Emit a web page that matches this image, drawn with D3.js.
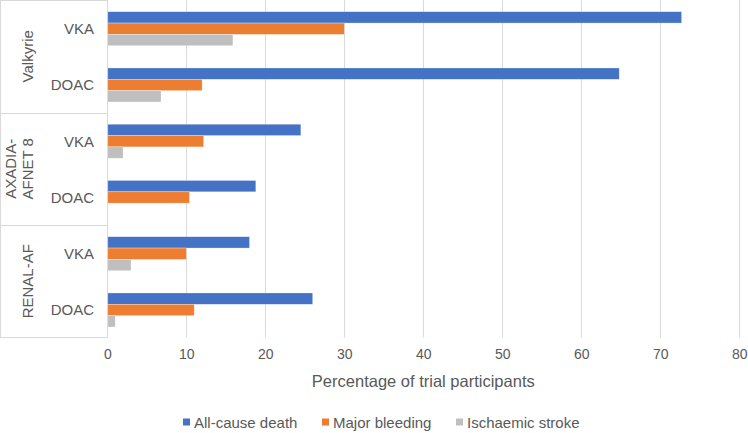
<!DOCTYPE html>
<html><head><meta charset="utf-8">
<script src="https://cdn.jsdelivr.net/npm/d3@7"></script>
<style>body{margin:0;background:#fff}svg{display:block;font-family:"Liberation Sans",Arial,sans-serif}</style>
</head><body><svg id="c" width="748" height="433"></svg>
<script>
const groups = ["Valkyrie", "AXADIA-AFNET 8", "RENAL-AF"];
const groupLines = [["Valkyrie"], ["AXADIA-", "AFNET 8"], ["RENAL-AF"]];
const arms = ["VKA", "DOAC"];
const seriesNames = ["All-cause death", "Major bleeding", "Ischaemic stroke"];
const death = [72.7, 64.8, 24.5, 18.8, 18.0, 26.0];
const bleeding = [30.0, 12.0, 12.2, 10.4, 10.0, 11.0];
const stroke = [15.9, 6.8, 2.0, 0, 3.0, 1.0];
const ticks = [0, 10, 20, 30, 40, 50, 60, 70, 80];
const colors = ["#4472C4", "#ED7D31", "#BFBFBF"];

(function () {
const rows = [];
groups.forEach((g, gi) => arms.forEach((a, ai) => rows.push({id: gi + "-" + ai, group: g, arm: a, idx: gi * 2 + ai})));
const series = [death, bleeding, stroke];

const svg = d3.select("#c");
const pL = 107.3, pR = 739.3, pT = 0, pB = 337.5;
const x = d3.scaleLinear().domain([0, 80]).range([pL, pR]);
const y = d3.scaleBand().domain(rows.map(r => r.id)).range([pT, pB]).padding(0);
const yIn = d3.scaleBand().domain(seriesNames).range([0, y.bandwidth()]).paddingInner(0).paddingOuter(0.98);
const grid = "#D9D9D9", txt = "#595959";

// gridlines
svg.append("g").selectAll("line").data(ticks).join("line")
  .attr("x1", d => Math.round(x(d)) + 0.5).attr("x2", d => Math.round(x(d)) + 0.5)
  .attr("y1", pT).attr("y2", pB).attr("stroke", grid).attr("stroke-width", 1);

// group boxes
const gb = svg.append("g").attr("stroke", grid).attr("stroke-width", 1);
gb.append("line").attr("x1", 0.5).attr("x2", 0.5).attr("y1", pT).attr("y2", pB);
const gy = d3.scaleBand().domain(groups).range([pT, pB]);
groups.forEach(g => {
  gb.append("line").attr("x1", 0).attr("x2", pL).attr("y1", Math.round(gy(g)) + 0.5).attr("y2", Math.round(gy(g)) + 0.5);
});
gb.append("line").attr("x1", 0).attr("x2", pL).attr("y1", pB).attr("y2", pB);

// bars
series.forEach((vals, si) => {
  svg.append("g").selectAll("rect").data(rows).join("rect")
    .attr("x", x(0) + 0.5)
    .attr("y", r => y(r.id) + yIn(seriesNames[si]) + 0.6)
    .attr("width", r => Math.max(0, x(vals[r.idx]) - x(0) - 0.5))
    .attr("height", yIn.bandwidth())
    .attr("fill", colors[si])
    .attr("stroke", "rgba(255,255,255,0.5)").attr("stroke-width", 0.6);
});

// category labels
svg.append("g").selectAll("text").data(rows).join("text")
  .attr("x", 94).attr("y", r => y(r.id) + y.bandwidth() / 2 + 0.5)
  .attr("text-anchor", "end").attr("dominant-baseline", "central")
  .attr("font-size", 15).attr("fill", txt).text(r => r.arm);

// group labels
groups.forEach((g, gi) => {
  const cy = gy(g) + gy.bandwidth() / 2;
  const lines = groupLines[gi];
  const cx = lines.length === 1 ? 27.5 : 19;
  const t = svg.append("text")
    .attr("transform", `translate(${cx},${cy}) rotate(-90)`)
    .attr("text-anchor", "middle").attr("font-size", 15).attr("fill", txt);
  lines.forEach((l, li) => {
    t.append("tspan").attr("x", 0).attr("dy", li === 0 ? (lines.length === 1 ? "0.35em" : "-0.2em") : "1.12em").text(l);
  });
});

// x axis tick labels
const ax = svg.append("g").attr("transform", `translate(0,${pB})`)
  .call(d3.axisBottom(x).tickValues(ticks).tickSize(0).tickPadding(12).tickFormat(d3.format("d")));
ax.select(".domain").remove();
ax.selectAll("text").attr("font-size", 14).attr("fill", txt).attr("font-family", "Liberation Sans, Arial, sans-serif");

// axis title
svg.append("text").attr("x", (pL + pR) / 2).attr("y", 387)
  .attr("text-anchor", "middle").attr("font-size", 16.5).attr("fill", txt)
  .text("Percentage of trial participants");

// legend
const legX = [183, 322, 456];
const lg = svg.append("g");
seriesNames.forEach((s, i) => {
  lg.append("rect").attr("x", legX[i]).attr("y", 418.5).attr("width", 7).attr("height", 7).attr("fill", colors[i]);
  lg.append("text").attr("x", legX[i] + 11).attr("y", 422).attr("dominant-baseline", "central")
    .attr("font-size", 15).attr("fill", txt).text(s);
});
})();
</script></body></html>
